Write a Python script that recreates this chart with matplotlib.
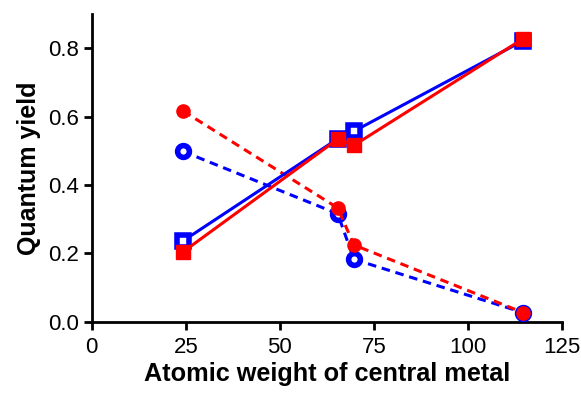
import matplotlib
matplotlib.use("Agg")
import matplotlib.pyplot as plt

plt.rcParams['font.family'] = ['Liberation Sans', 'DejaVu Sans']

x = [24.3, 65.4, 69.7, 114.8]
blue_sq = [0.237, 0.535, 0.557, 0.822]
red_sq = [0.205, 0.534, 0.516, 0.828]
red_ci = [0.616, 0.333, 0.225, 0.027]
blue_ci = [0.498, 0.316, 0.183, 0.027]

xticks = [0, 25, 50, 75, 100, 125]
yticks = [0.0, 0.2, 0.4, 0.6, 0.8]

fig = plt.figure(figsize=(5.81, 3.96), dpi=100)
ax = fig.add_axes([0.158, 0.187, 0.809, 0.778])

ax.plot(x, blue_ci, '--', color='#0000ff', lw=2.2, marker='o', ms=8.5,
        mfc='white', mec='#0000ff', mew=4, dashes=(2.8, 1.9), zorder=3)
ax.plot(x, red_ci, '--', color='#ff0000', lw=2.2, marker='o', ms=9.5,
        mfc='#ff0000', mec='#ff0000', dashes=(2.8, 1.9), zorder=4)
ax.plot(x, blue_sq, '-', color='#0000ff', lw=2.2, marker='s', ms=8.5,
        mfc='white', mec='#0000ff', mew=4, zorder=5)
ax.plot(x, red_sq, '-', color='#ff0000', lw=2.2, marker='s', ms=10,
        mfc='#ff0000', mec='#ff0000', zorder=6)

ax.set_xlim(0, 125)
ax.set_ylim(0, 0.9)
ax.set_xticks(xticks)
ax.set_yticks(yticks)
ax.set_yticklabels([f"{v:.1f}" for v in yticks])
ax.tick_params(labelsize=16, width=2, length=6, direction='out')
ax.tick_params(axis='x', pad=5)
for s in ['top', 'right']:
    ax.spines[s].set_visible(False)
for s in ['left', 'bottom']:
    ax.spines[s].set_linewidth(2)
ax.set_xlabel('Atomic weight of central metal', fontsize=18.2, fontweight='bold', labelpad=3)
ax.set_ylabel('Quantum yield', fontsize=18, fontweight='bold', labelpad=5)

fig.savefig('out.png', dpi=100)
